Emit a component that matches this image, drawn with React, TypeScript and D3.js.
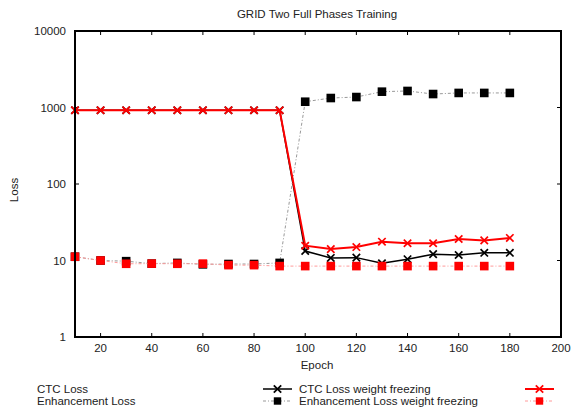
import React from "react";
import * as d3 from "d3";

const epochs = [10, 20, 30, 40, 50, 60, 70, 80, 90, 100, 110, 120, 130, 140, 150, 160, 170, 180];
const ctcLoss = [920, 920, 920, 920, 920, 920, 920, 920, 920, 13.3, 10.8, 10.9, 9.2, 10.4, 12.1, 11.8, 12.6, 12.6];
const enhLoss = [11.2, 10.0, 9.8, 9.1, 9.3, 8.9, 9.0, 9.0, 9.3, 1190, 1330, 1370, 1610, 1645, 1500, 1550, 1550, 1550];
const ctcFreeze = [920, 920, 920, 920, 920, 920, 920, 920, 920, 15.6, 14.1, 15.0, 17.6, 16.8, 16.8, 19.1, 18.3, 19.7];
const enhFreeze = [11.2, 10.0, 9.06, 9.1, 9.06, 9.1, 8.7, 8.7, 8.45, 8.45, 8.45, 8.45, 8.45, 8.45, 8.45, 8.45, 8.45, 8.45];
const xTicks = [20, 40, 60, 80, 100, 120, 140, 160, 180, 200];
const yTicks = [1, 10, 100, 1000, 10000];
const seriesNames = ["CTC Loss", "Enhancement Loss", "CTC Loss weight freezing", "Enhancement Loss weight freezing"];

const W = 572, H = 408;
const L = 75, R = 561, T = 31, B = 337;
const FONT = "Liberation Sans, Arial, Helvetica, sans-serif";
const FS = 11.5;

export default function App() {
  const x = d3.scaleLinear().domain([10, 200]).range([L, R]);
  const y = d3.scaleLog().domain([1, 10000]).range([B, T]);
  const line = (vals: number[]) =>
    d3.line<number>().x((_, i) => x(epochs[i])).y((v) => y(v))(vals) || "";

  const cross = (cx: number, cy: number, color: string, key: string, s = 3.7, sw = 1.7) => (
    <g key={key} stroke={color} strokeWidth={sw}>
      <line x1={cx - s} y1={cy - s} x2={cx + s} y2={cy + s} />
      <line x1={cx - s} y1={cy + s} x2={cx + s} y2={cy - s} />
    </g>
  );
  const square = (cx: number, cy: number, color: string, key: string, s = 4.3) => (
    <rect key={key} x={cx - s} y={cy - s} width={2 * s} height={2 * s} fill={color} />
  );

  const series = [
    { vals: ctcLoss, stroke: "#000", sw: 1.5, dash: undefined as string | undefined, marker: "x", mcolor: "#000" },
    { vals: enhLoss, stroke: "#999", sw: 1, dash: "3,2,1,2", marker: "s", mcolor: "#000" },
    { vals: ctcFreeze, stroke: "#f00", sw: 2, dash: undefined, marker: "x", mcolor: "#f00" },
    { vals: enhFreeze, stroke: "#ff9a9a", sw: 1, dash: "3,2,1,2", marker: "s", mcolor: "#f00" },
  ];

  const legendPos = [
    { tx: 37, ty: 389, sx: 263, sy: 389 },
    { tx: 37, ty: 401, sx: 263, sy: 401 },
    { tx: 299, ty: 389, sx: 525, sy: 389 },
    { tx: 299, ty: 401, sx: 525, sy: 401 },
  ];

  return (
    <svg width={W} height={H} style={{ position: "absolute", left: 0, top: 0 }} fontFamily={FONT}>
      <rect width={W} height={H} fill="#fff" />
      <text x={317} y={18} textAnchor="middle" fontSize={FS} fill="#222">GRID Two Full Phases Training</text>
      {xTicks.map((t) => (
        <g key={"xt" + t}>
          <line x1={x(t)} x2={x(t)} y1={B} y2={B - 4} stroke="#000" />
          <line x1={x(t)} x2={x(t)} y1={T} y2={T + 4} stroke="#000" />
          <text x={x(t)} y={352} textAnchor="middle" fontSize={FS} fill="#222">{t}</text>
        </g>
      ))}
      {yTicks.map((t) => (
        <g key={"yt" + t}>
          <line x1={L} x2={L + 4} y1={y(t)} y2={y(t)} stroke="#000" />
          <line x1={R} x2={R - 4} y1={y(t)} y2={y(t)} stroke="#000" />
          <text x={66} y={y(t) + 4} textAnchor="end" fontSize={FS} fill="#222">{t}</text>
        </g>
      ))}
      <text x={317} y={369} textAnchor="middle" fontSize={FS} fill="#222">Epoch</text>
      <text transform="translate(18,190) rotate(-90)" textAnchor="middle" fontSize={FS} fill="#222">Loss</text>
      {series.map((s, si) => (
        <g key={"s" + si}>
          <path d={line(s.vals)} fill="none" stroke={s.stroke} strokeWidth={s.sw} strokeDasharray={s.dash} />
          {s.vals.map((v, i) =>
            s.marker === "x"
              ? cross(x(epochs[i]), y(v), s.mcolor, "m" + si + "-" + i)
              : square(x(epochs[i]), y(v), s.mcolor, "m" + si + "-" + i)
          )}
        </g>
      ))}
      <rect x={L} y={T} width={R - L} height={B - T} fill="none" stroke="#000" strokeWidth={2} />
      {series.map((s, si) => {
        const p = legendPos[si];
        return (
          <g key={"lg" + si}>
            <text x={p.tx} y={p.ty + 4} fontSize={FS} fill="#222">{seriesNames[si]}</text>
            <line x1={p.sx} x2={p.sx + 29} y1={p.sy} y2={p.sy} stroke={s.stroke} strokeWidth={s.sw} strokeDasharray={s.dash} />
            {s.marker === "x" ? cross(p.sx + 14.5, p.sy, s.mcolor, "lm" + si) : square(p.sx + 14.5, p.sy, s.mcolor, "lm" + si, 3.7)}
          </g>
        );
      })}
    </svg>
  );
}
